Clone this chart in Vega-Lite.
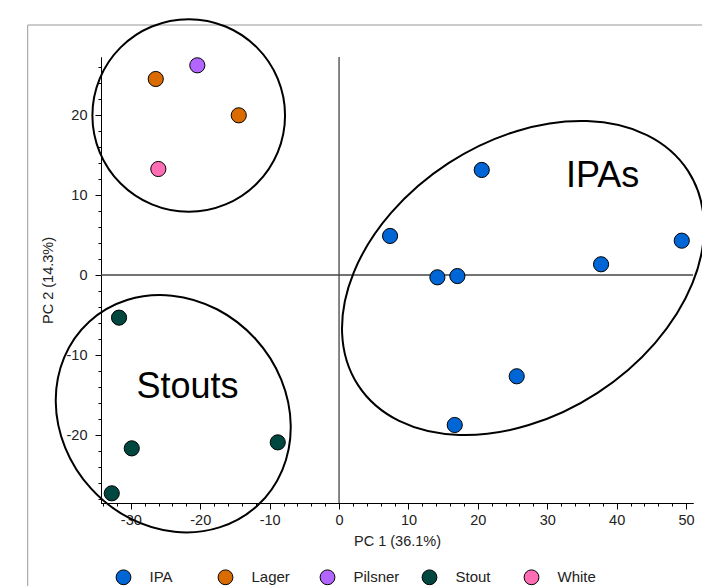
{
  "$schema": "https://vega.github.io/schema/vega-lite/v6.json",
  "width": 592,
  "height": 446,
  "autosize": {"type": "none"},
  "padding": {"left": 101, "top": 57, "right": 9, "bottom": 83},
  "background": "white",
  "config": {
    "view": {"stroke": null},
    "font": "Liberation Sans",
    "axis": {
      "grid": false,
      "domainColor": "black",
      "domainWidth": 1,
      "tickColor": "black",
      "tickWidth": 1,
      "labelFont": "Liberation Sans",
      "labelFontSize": 14.5,
      "labelColor": "#222222",
      "titleFont": "Liberation Sans",
      "titleFontSize": 14.5,
      "titleFontWeight": "normal",
      "titleColor": "#222222",
      "labelOverlap": false,
      "labelFlush": false
    }
  },
  "resolve": {"axis": {"x": "independent", "y": "independent"}},
  "datasets": {
    "points": [
      {"x": -26.41, "y": 24.5, "type": "Lager"},
      {"x": -20.42, "y": 26.21, "type": "Pilsner"},
      {"x": -14.45, "y": 19.96, "type": "Lager"},
      {"x": -26.04, "y": 13.25, "type": "White"},
      {"x": 20.56, "y": 13.13, "type": "IPA"},
      {"x": 7.35, "y": 4.88, "type": "IPA"},
      {"x": 14.17, "y": -0.29, "type": "IPA"},
      {"x": 17.05, "y": -0.13, "type": "IPA"},
      {"x": 37.75, "y": 1.34, "type": "IPA"},
      {"x": 49.38, "y": 4.29, "type": "IPA"},
      {"x": 25.6, "y": -12.66, "type": "IPA"},
      {"x": 16.67, "y": -18.75, "type": "IPA"},
      {"x": -31.7, "y": -5.33, "type": "Stout"},
      {"x": -29.87, "y": -21.67, "type": "Stout"},
      {"x": -8.83, "y": -20.92, "type": "Stout"},
      {"x": -32.75, "y": -27.29, "type": "Stout"}
    ],
    "ellipses": [
      {"group": "IPAs", "t": 0, "x": 50.28, "y": 13.02},
      {"group": "IPAs", "t": 1, "x": 44.36, "y": 17.49},
      {"group": "IPAs", "t": 2, "x": 35.72, "y": 19.24},
      {"group": "IPAs", "t": 3, "x": 25.68, "y": 18.01},
      {"group": "IPAs", "t": 4, "x": 15.77, "y": 13.98},
      {"group": "IPAs", "t": 5, "x": 7.49, "y": 7.76},
      {"group": "IPAs", "t": 6, "x": 2.11, "y": 0.31},
      {"group": "IPAs", "t": 7, "x": 0.44, "y": -7.25},
      {"group": "IPAs", "t": 8, "x": 2.74, "y": -13.77},
      {"group": "IPAs", "t": 9, "x": 8.66, "y": -18.24},
      {"group": "IPAs", "t": 10, "x": 17.3, "y": -19.99},
      {"group": "IPAs", "t": 11, "x": 27.34, "y": -18.76},
      {"group": "IPAs", "t": 12, "x": 37.25, "y": -14.73},
      {"group": "IPAs", "t": 13, "x": 45.53, "y": -8.51},
      {"group": "IPAs", "t": 14, "x": 50.91, "y": -1.06},
      {"group": "IPAs", "t": 15, "x": 52.58, "y": 6.51},
      {"group": "Stouts", "t": 0, "x": -11.78, "y": -28.84},
      {"group": "Stouts", "t": 1, "x": -8.18, "y": -24.38},
      {"group": "Stouts", "t": 2, "x": -6.96, "y": -18.85},
      {"group": "Stouts", "t": 3, "x": -8.33, "y": -13.08},
      {"group": "Stouts", "t": 4, "x": -12.06, "y": -7.97},
      {"group": "Stouts", "t": 5, "x": -17.59, "y": -4.28},
      {"group": "Stouts", "t": 6, "x": -24.08, "y": -2.58},
      {"group": "Stouts", "t": 7, "x": -30.55, "y": -3.13},
      {"group": "Stouts", "t": 8, "x": -36.0, "y": -5.84},
      {"group": "Stouts", "t": 9, "x": -39.6, "y": -10.3},
      {"group": "Stouts", "t": 10, "x": -40.82, "y": -15.83},
      {"group": "Stouts", "t": 11, "x": -39.45, "y": -21.6},
      {"group": "Stouts", "t": 12, "x": -35.72, "y": -26.71},
      {"group": "Stouts", "t": 13, "x": -30.19, "y": -30.4},
      {"group": "Stouts", "t": 14, "x": -23.7, "y": -32.1},
      {"group": "Stouts", "t": 15, "x": -17.23, "y": -31.55},
      {"group": "Lagers", "t": 0, "x": -7.78, "y": 19.94},
      {"group": "Lagers", "t": 1, "x": -8.84, "y": 24.55},
      {"group": "Lagers", "t": 2, "x": -11.85, "y": 28.45},
      {"group": "Lagers", "t": 3, "x": -16.35, "y": 31.06},
      {"group": "Lagers", "t": 4, "x": -21.66, "y": 31.98},
      {"group": "Lagers", "t": 5, "x": -26.97, "y": 31.06},
      {"group": "Lagers", "t": 6, "x": -31.47, "y": 28.45},
      {"group": "Lagers", "t": 7, "x": -34.48, "y": 24.55},
      {"group": "Lagers", "t": 8, "x": -35.54, "y": 19.94},
      {"group": "Lagers", "t": 9, "x": -34.48, "y": 15.33},
      {"group": "Lagers", "t": 10, "x": -31.47, "y": 11.43},
      {"group": "Lagers", "t": 11, "x": -26.97, "y": 8.82},
      {"group": "Lagers", "t": 12, "x": -21.66, "y": 7.9},
      {"group": "Lagers", "t": 13, "x": -16.35, "y": 8.82},
      {"group": "Lagers", "t": 14, "x": -11.85, "y": 11.43},
      {"group": "Lagers", "t": 15, "x": -8.84, "y": 15.33}
    ],
    "labels": [
      {"text": "IPAs", "x": 37.97, "y": 11.04},
      {"text": "Stouts", "x": -21.83, "y": -15.41}
    ],
    "frameH": [{"x": -44.86, "x2": 60, "y": 31.25}],
    "frameV": [{"x": -44.86, "y": 31.25, "y2": -45}]
  },
  "layer": [
    {
      "data": {"name": "frameH"},
      "mark": {"type": "rule", "color": "#999999", "strokeWidth": 1},
      "encoding": {
        "x": {
          "field": "x", "type": "quantitative",
          "scale": {"domain": [-34.3, 51.0], "nice": false, "zero": false},
          "axis": {
            "orient": "bottom", "title": null, "labels": false, "domain": true, "tickSize": 3,
            "values": [-34,-32,-30,-28,-26,-24,-22,-20,-18,-16,-14,-12,-10,-8,-6,-4,-2,0,2,4,6,8,10,12,14,16,18,20,22,24,26,28,30,32,34,36,38,40,42,44,46,48,50]
          }
        },
        "x2": {"field": "x2"},
        "y": {
          "field": "y", "type": "quantitative",
          "scale": {"domain": [-28.5, 27.25], "nice": false, "zero": false},
          "axis": {
            "orient": "left", "title": null, "labels": false, "domain": true, "tickSize": 3,
            "values": [-28,-26,-24,-22,-20,-18,-16,-14,-12,-10,-8,-6,-4,-2,0,2,4,6,8,10,12,14,16,18,20,22,24,26]
          }
        }
      }
    },
    {
      "data": {"name": "frameV"},
      "mark": {"type": "rule", "color": "#999999", "strokeWidth": 1},
      "encoding": {
        "x": {"field": "x", "type": "quantitative", "axis": null},
        "y": {"field": "y", "type": "quantitative", "axis": null},
        "y2": {"field": "y2"}
      }
    },
    {
      "data": {"values": [{}]},
      "mark": {"type": "rule", "color": "#444444", "strokeWidth": 1.3},
      "encoding": {"x": {"datum": 0, "type": "quantitative", "axis": null}}
    },
    {
      "data": {"values": [{}]},
      "mark": {"type": "rule", "color": "#444444", "strokeWidth": 1.3},
      "encoding": {"y": {"datum": 0, "type": "quantitative", "axis": null}}
    },
    {
      "data": {"name": "ellipses"},
      "mark": {"type": "line", "interpolate": "cardinal-closed", "stroke": "black", "strokeWidth": 2},
      "encoding": {
        "x": {"field": "x", "type": "quantitative", "axis": null},
        "y": {"field": "y", "type": "quantitative", "axis": null},
        "detail": {"field": "group"},
        "order": {"field": "t", "type": "quantitative"}
      }
    },
    {
      "data": {"name": "points"},
      "mark": {"type": "point", "filled": true, "size": 230, "stroke": "black", "strokeWidth": 1, "opacity": 1},
      "encoding": {
        "x": {
          "field": "x", "type": "quantitative",
          "axis": {
            "orient": "bottom",
            "title": "PC 1 (36.1%)",
            "values": [-30, -20, -10, 0, 10, 20, 30, 40, 50],
            "labelExpr": "'' + datum.value",
            "tickSize": 6,
            "labelPadding": 4,
            "titlePadding": 8
          }
        },
        "y": {
          "field": "y", "type": "quantitative",
          "axis": {
            "orient": "left",
            "title": "PC 2 (14.3%)",
            "values": [-20, -10, 0, 10, 20],
            "labelExpr": "'' + datum.value",
            "tickSize": 6,
            "labelPadding": 8,
            "titlePadding": 11
          }
        },
        "color": {
          "field": "type", "type": "nominal",
          "scale": {"domain": ["IPA", "Lager", "Pilsner", "Stout", "White"], "range": ["#0066d6", "#d96b00", "#b266ff", "#00473f", "#ff6eb4"]},
          "legend": {
            "orient": "none", "legendX": 14.5, "legendY": 512,
            "direction": "horizontal", "columns": 5, "gridAlign": "all", "columnPadding": 20,
            "title": null, "symbolType": "circle", "symbolSize": 220,
            "symbolStrokeColor": "black", "symbolStrokeWidth": 1, "symbolOpacity": 1,
            "labelFont": "Liberation Sans", "labelFontSize": 15, "labelOffset": 18, "labelColor": "#222222"
          }
        }
      }
    },
    {
      "data": {"name": "labels"},
      "mark": {"type": "text", "fontSize": 36, "font": "Liberation Sans", "align": "center", "baseline": "alphabetic", "color": "black"},
      "encoding": {
        "x": {"field": "x", "type": "quantitative", "axis": null},
        "y": {"field": "y", "type": "quantitative", "axis": null},
        "text": {"field": "text"}
      }
    }
  ]
}
